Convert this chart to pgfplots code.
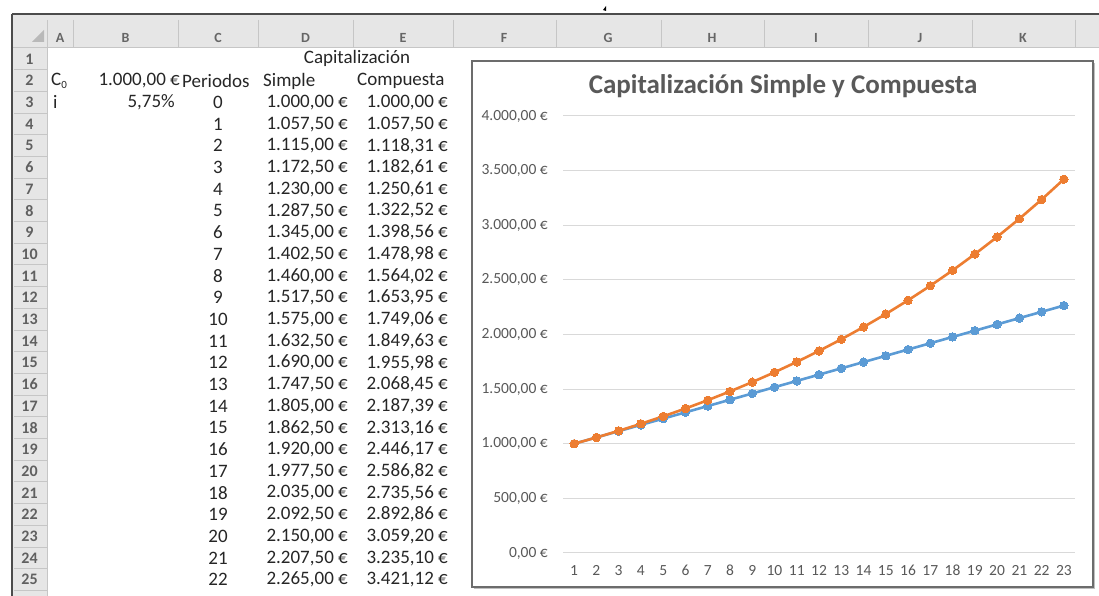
\documentclass[border=0pt]{standalone}
\usepackage{pgfplots}
\pgfplotsset{compat=1.18}
\usepackage{fontspec}
\setmainfont{Carlito}
\definecolor{hdr}{HTML}{E6E6E6}
\definecolor{hdrline}{HTML}{C6C6C6}
\definecolor{txt}{HTML}{262626}
\definecolor{lbl}{HTML}{595959}
\definecolor{grd}{HTML}{D9D9D9}
\definecolor{sblue}{HTML}{5B9BD5}
\definecolor{sorange}{HTML}{ED7D31}
\begin{document}
\begin{tikzpicture}
\begin{scope}[x=1pt,y=-1pt,yshift=596pt]
\useasboundingbox (0,0) rectangle (1099,596);
\fill[white] (0,0) rectangle (1099,596);
% headers
\fill[hdr] (12,14) rectangle (1099,48);
\fill[hdr] (12,14) rectangle (47,596);
\foreach \x in {47,73,178,258,353,453,556,661,764,868,972,1075}
  \draw[hdrline, line width=1pt] (\x,20) -- (\x,48);
\foreach \n in {1,...,26}
  \draw[hdrline, line width=1pt] (14,{48+\n*21.7}) -- (47,{48+\n*21.7});
\draw[hdrline, line width=1pt] (12,48) -- (1099,48);
\draw[hdrline, line width=1pt] (47,48) -- (47,596);
\draw[gray!60!black, line width=1.3pt] (12,14) -- (1099,14);
\draw[gray!60!black, line width=1.3pt] (12,14) -- (12,596);
\fill[gray!55] (44,30) -- (44,42) -- (32,42) -- cycle;
\fill[black] (603,10) -- (606,6) -- (606,11) -- cycle;
\foreach \c/\x in {A/60,B/125.5,C/218,D/305.5,E/403,F/504,G/608,H/712,I/816,J/920,K/1023}
  \node[font=\fontsize{14}{14}\selectfont\bfseries, text=gray!80!black] at (\x,38) {\c};
\foreach \n in {1,...,25}
  \node[font=\fontsize{16}{16}\selectfont\bfseries, text=gray!75!black] at (29.5,{59+(\n-1)*21.7}) {\n};
% cells
\begin{scope}[every node/.style={font=\fontsize{19}{19}\selectfont, text=txt, inner sep=0pt}]
\node at (357,58) {Capitalización};
\node[anchor=west] at (51,81) {C\raisebox{-0.25ex}{\fontsize{11}{11}\selectfont 0}};
\node[anchor=east] at (180,81) {1.000,00 €};
\node[anchor=west] at (182,81) {Periodos};
\node[anchor=west] at (263,81) {Simple};
\node[anchor=west] at (357,81) {Compuesta};
\node[anchor=west] at (53,102.4) {i};
\node[anchor=east] at (175,102.4) {5,75\%};
\foreach \p/\s/\c [count=\k from 3] in {
 0/{1.000,00}/{1.000,00}, 1/{1.057,50}/{1.057,50}, 2/{1.115,00}/{1.118,31},
 3/{1.172,50}/{1.182,61}, 4/{1.230,00}/{1.250,61}, 5/{1.287,50}/{1.322,52},
 6/{1.345,00}/{1.398,56}, 7/{1.402,50}/{1.478,98}, 8/{1.460,00}/{1.564,02},
 9/{1.517,50}/{1.653,95}, 10/{1.575,00}/{1.749,06}, 11/{1.632,50}/{1.849,63},
 12/{1.690,00}/{1.955,98}, 13/{1.747,50}/{2.068,45}, 14/{1.805,00}/{2.187,39},
 15/{1.862,50}/{2.313,16}, 16/{1.920,00}/{2.446,17}, 17/{1.977,50}/{2.586,82},
 18/{2.035,00}/{2.735,56}, 19/{2.092,50}/{2.892,86}, 20/{2.150,00}/{3.059,20},
 21/{2.207,50}/{3.235,10}, 22/{2.265,00}/{3.421,12}}{
  \node at (218,{59+(\k-1)*21.7}) {\p};
  \node[anchor=east] at (348,{59+(\k-1)*21.7}) {\s\ €};
  \node[anchor=east] at (448,{59+(\k-1)*21.7}) {\c\ €};
}
\end{scope}
% chart box
\fill[black!25] (474,63) rectangle (1095,589);
\filldraw[fill=white, draw=gray!85!black, line width=1.3pt] (472,61) rectangle (1093,587);
\node[font=\fontsize{27}{27}\selectfont\bfseries, text=lbl] at (783,86) {Capitalización Simple y Compuesta};
\end{scope}
\begin{axis}[
  at={(563pt,43pt)}, anchor=south west,
  scale only axis, width=512pt, height=437pt,
  xmin=0.5, xmax=23.5, ymin=0, ymax=4000,
  axis line style={draw=none},
  major tick length=0pt,
  xtick={1,...,23},
  xticklabels={1,2,3,4,5,6,7,8,9,10,11,12,13,14,15,16,17,18,19,20,21,22,23},
  ytick={0,500,1000,1500,2000,2500,3000,3500,4000},
  yticklabels={{0,00 €},{500,00 €},{1.000,00 €},{1.500,00 €},{2.000,00 €},{2.500,00 €},{3.000,00 €},{3.500,00 €},{4.000,00 €}},
  /pgf/number format/assume math mode=true,
  ymajorgrids, grid style={grd, line width=1pt},
  yticklabel style={font=\fontsize{15.5}{15.5}\selectfont, text=lbl, inner sep=0pt, anchor=east, xshift=-15pt},
  xticklabel style={font=\fontsize{15.5}{15.5}\selectfont, text=lbl, inner sep=0pt, anchor=north, yshift=-12pt},
  clip=false,
]
\addplot[sblue, line width=2.6pt, mark=*, mark size=4.2pt, mark options={fill=sblue, draw=sblue, line width=0pt}] coordinates {
(1,1000) (2,1057.5) (3,1115) (4,1172.5) (5,1230) (6,1287.5) (7,1345) (8,1402.5) (9,1460) (10,1517.5) (11,1575) (12,1632.5) (13,1690) (14,1747.5) (15,1805) (16,1862.5) (17,1920) (18,1977.5) (19,2035) (20,2092.5) (21,2150) (22,2207.5) (23,2265)};
\addplot[sorange, line width=2.6pt, mark=*, mark size=4.2pt, mark options={fill=sorange, draw=sorange, line width=0pt}] coordinates {
(1,1000) (2,1057.50) (3,1118.31) (4,1182.61) (5,1250.61) (6,1322.52) (7,1398.56) (8,1478.98) (9,1564.02) (10,1653.95) (11,1749.06) (12,1849.63) (13,1955.98) (14,2068.45) (15,2187.39) (16,2313.16) (17,2446.17) (18,2586.82) (19,2735.56) (20,2892.86) (21,3059.20) (22,3235.10) (23,3421.12)};
\end{axis}
\end{tikzpicture}
\end{document}
